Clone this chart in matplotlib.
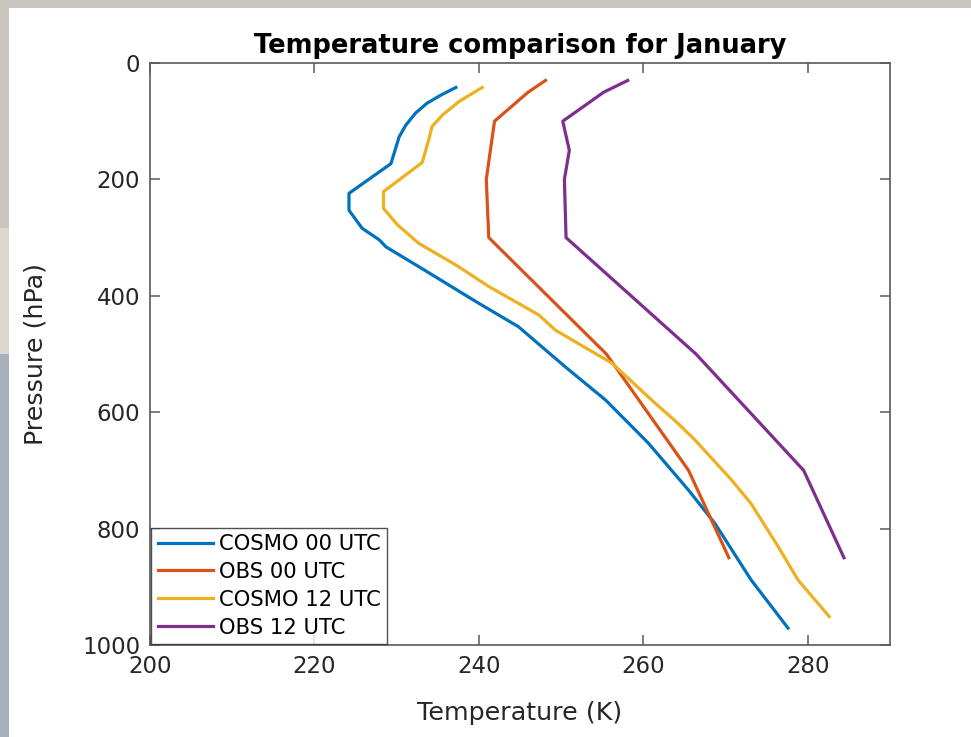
import matplotlib
matplotlib.use("Agg")
import matplotlib.pyplot as plt
from matplotlib.patches import Rectangle

## Profile data (temperature in K, pressure in hPa)
# COSMO model profiles (smooth, many levels)
cosmo00_p = [42, 55, 69, 86, 107, 127, 173, 224, 253, 284, 304, 316, 350,
             413, 453, 522, 579, 653, 734, 791, 888, 971]
cosmo00_t = [237.2, 235.4, 233.7, 232.3, 231.1, 230.3, 229.3, 224.2, 224.2,
             225.8, 227.9, 228.7, 232.7, 240.0, 244.8, 250.5, 255.4, 260.6,
             265.5, 268.7, 273.1, 277.6]

cosmo12_p = [42, 66, 89, 109, 132, 171, 221, 250, 278, 310, 347, 384, 433,
             459, 516, 579, 619, 648, 716, 757, 831, 888, 951]
cosmo12_t = [240.4, 237.6, 235.6, 234.3, 233.9, 233.1, 228.4, 228.4, 230.1,
             232.7, 237.2, 241.2, 247.3, 249.3, 256.2, 261.0, 264.2, 266.3,
             270.7, 273.1, 276.4, 278.8, 282.6]

# radiosonde observations on standard levels
obs00_p = [30, 50, 100, 150, 200, 300, 500, 700, 850]
obs00_t = [248.1, 246.0, 241.9, 241.4, 240.9, 241.2, 255.5, 265.5, 270.4]

obs12_p = [30, 50, 100, 150, 200, 300, 500, 700, 850]
obs12_t = [258.1, 255.2, 250.2, 251.0, 250.4, 250.6, 266.4, 279.5, 284.4]

series_labels = ["COSMO 00 UTC", "OBS 00 UTC", "COSMO 12 UTC", "OBS 12 UTC"]
x_ticks = [200, 220, 240, 260, 280]
y_ticks = [0, 200, 400, 600, 800, 1000]

# MATLAB default line colours
colors = ["#0072BD", "#D95319", "#EDB120", "#7E2F8E"]

fig = plt.figure(figsize=(9.71, 7.37), dpi=100)
fig.patch.set_facecolor("#c9c5bf")

# screenshot frame: photo edge on the left/top, white figure area
frame = [((0, 0), 9 / 971, 0.52, "#a7b0bb"),
         ((0, 0.52), 9 / 971, 0.17, "#ddd8cf"),
         ((9 / 971, 0), 1, 1 - 8 / 737, "white")]
for xy, w, h, fc in frame:
    fig.patches.append(Rectangle(xy, w, h, transform=fig.transFigure,
                                 facecolor=fc, edgecolor="none", zorder=-10))

ax = fig.add_axes([150 / 971, 92 / 737, 740 / 971, 582 / 737])

profiles = [(cosmo00_t, cosmo00_p), (obs00_t, obs00_p),
            (cosmo12_t, cosmo12_p), (obs12_t, obs12_p)]
for (t, p), c, lab in zip(profiles, colors, series_labels):
    ax.plot(t, p, color=c, lw=2.3, label=lab)

ax.set_xlim(200, 290)
ax.set_ylim(1000, 0)
ax.set_xticks(x_ticks)
ax.set_yticks(y_ticks)

axis_col = "#262626"
for s in ax.spines.values():
    s.set_color("#5a5a5a")
    s.set_linewidth(1.2)
ax.tick_params(direction="in", length=7, width=1.1, color="#5a5a5a",
               top=True, right=True, labelsize=16.5, labelcolor=axis_col, pad=7)

ax.set_xlabel("Temperature (K)", fontsize=18.3, color=axis_col, labelpad=17)
ax.set_ylabel("Pressure (hPa)", fontsize=18.3, color=axis_col, labelpad=25)
ax.set_title("Temperature comparison for January", fontsize=18.5,
             fontweight="bold", color="black", pad=7)

leg = ax.legend(loc="lower left", bbox_to_anchor=(0.002, 0.002), fontsize=15.2,
                frameon=True, fancybox=False, borderaxespad=0.0,
                handlelength=2.6, handletextpad=0.3, labelspacing=0.37,
                borderpad=0.3)
leg.get_frame().set_edgecolor("#262626")
leg.get_frame().set_linewidth(1.0)
for txt in leg.get_texts():
    txt.set_color("black")

fig.savefig("out.png", dpi=100, facecolor=fig.get_facecolor())
